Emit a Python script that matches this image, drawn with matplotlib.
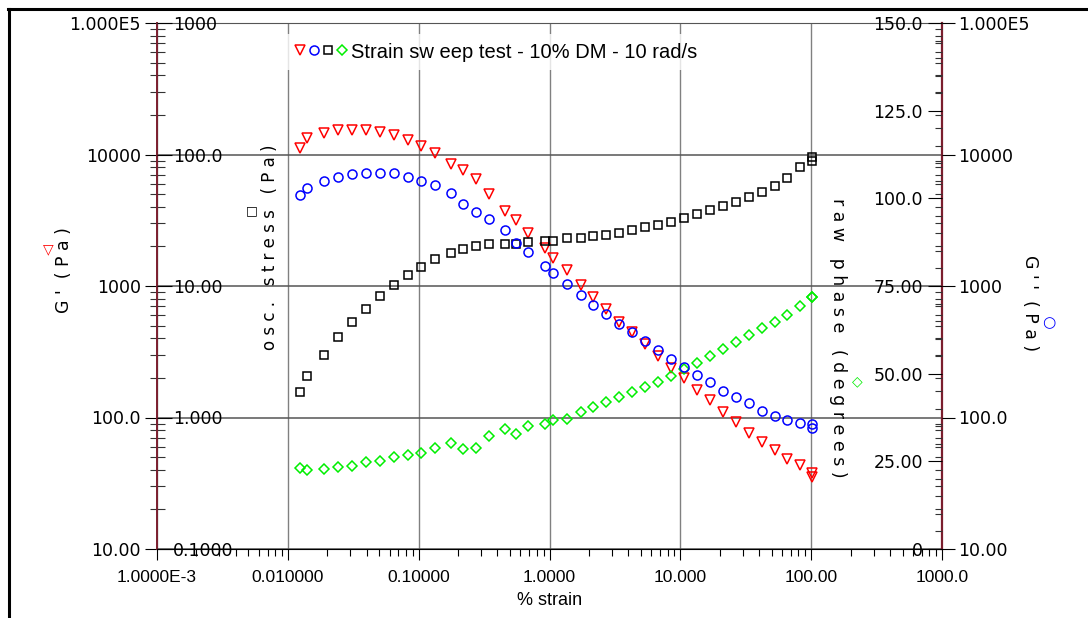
import matplotlib
matplotlib.use("Agg")
import matplotlib.pyplot as plt
from matplotlib.lines import Line2D
from matplotlib.legend_handler import HandlerTuple
from matplotlib.ticker import NullFormatter, NullLocator, FixedLocator

# strain sweep data
strain = [0.0124, 0.0141, 0.0190, 0.0243, 0.0311, 0.0397, 0.0508, 0.0650, 0.0832, 0.1045,
          0.134, 0.177, 0.219, 0.275, 0.346, 0.458, 0.556, 0.687, 0.927, 1.067,
          1.365, 1.746, 2.158, 2.712, 3.409, 4.286, 5.387, 6.770, 8.509, 10.70,
          13.45, 16.91, 21.26, 26.72, 33.6, 42.2, 53.1, 65.6, 82.5, 101.9, 101.9]
g_storage = [11110, 13370, 14450, 15310, 15310, 15310, 14700, 14020, 12850, 11620,
             10280, 8480, 7600, 6460, 4990, 3725, 3164, 2533, 1949, 1620,
             1319, 1026, 826, 663, 528, 448, 361, 296, 240, 200,
             163, 135.5, 110.4, 91.7, 76.4, 64.6, 56.4, 48.2, 43.2, 37.9, 35.3]
g_loss = [4898, 5607, 6341, 6718, 7083, 7295, 7295, 7295, 6761, 6341,
          5874, 5140, 4169, 3623, 3260, 2656, 2127, 1817, 1422, 1245,
          1032, 852, 711, 611, 510, 448, 379, 325, 278, 243,
          211, 185, 159, 142, 128, 112, 103, 95.9, 91.6, 89.0, 83.4]
stress = [1.55, 2.08, 3.01, 4.06, 5.33, 6.66, 8.41, 10.14, 12.2, 13.97,
          15.99, 17.67, 18.95, 20.18, 20.7, 20.8, 20.9, 21.65, 22.1, 22.1,
          23.1, 23.1, 23.9, 24.5, 25.5, 26.6, 27.9, 29.1, 30.6, 32.8,
          35.0, 37.7, 40.4, 43.4, 47.3, 52.0, 58.1, 66.8, 80.0, 95.3, 88.5]
phase = [23.0, 22.5, 22.7, 23.4, 23.8, 24.7, 25.1, 26.2, 26.7, 27.3,
         28.9, 30.3, 28.5, 28.9, 32.2, 34.1, 32.9, 35.2, 35.6, 36.7,
         37.1, 39.0, 40.4, 42.0, 43.4, 44.9, 46.1, 47.5, 49.4, 51.2,
         53.1, 55.0, 56.9, 59.1, 61.0, 62.9, 64.8, 66.7, 69.3, 71.8, 71.8]

x_ticks = [1e-3, 1e-2, 1e-1, 1, 10, 100, 1000]
x_labels = ['1.0000E-3', '0.010000', '0.10000', '1.0000', '10.000', '100.00', '1000.0']
mod_ticks = [10, 100, 1000, 1e4, 1e5]
mod_labels = ['10.00', '100.0', '1000', '10000', '1.000E5']
stress_ticks = [0.1, 1, 10, 100, 1000]
stress_labels = ['0.1000', '1.000', '10.00', '100.0', '1000']
phase_ticks = [0, 25, 50, 75, 100, 125, 150]
phase_labels = ['0', '25.00', '50.00', '75.00', '100.0', '125.0', '150.0']

title = 'Strain sw eep test - 10% DM - 10 rad/s'

W, H = 1088, 618
PX = 0.72  # points per pixel at dpi 100
maroon = '#7b1e2e'

plt.rcParams['font.family'] = 'DejaVu Sans'
fig = plt.figure(figsize=(W / 100, H / 100), dpi=100)

ax = fig.add_axes([157 / W, 1 - 549 / H, (942 - 157) / W, (549 - 23) / H])
ax_s = ax.twinx()
ax_ph = ax.twinx()
ax_gpp = ax.twinx()

# G' (outer left)
ax.set_xscale('log')
ax.set_yscale('log')
ax.set_xlim(1e-3, 1e3)
ax.set_ylim(10, 1e5)
ax.set_xticks(x_ticks, x_labels)
ax.set_yticks(mod_ticks, mod_labels)
ax.yaxis.set_minor_formatter(NullFormatter())
ax.xaxis.set_minor_formatter(NullFormatter())
ax.tick_params(axis='y', which='major', direction='out', length=12 * PX, pad=4 * PX,
               labelsize=12.5)
ax.tick_params(axis='y', which='minor', direction='inout', length=15 * PX, width=0.8,
               color='#333333')
ax.tick_params(axis='x', which='major', direction='out', length=11 * PX, pad=10 * PX,
               labelsize=12.5, labelfontfamily='Liberation Sans')
ax.tick_params(axis='x', which='minor', direction='out', length=7 * PX, width=0.8)
ax.set_xlabel('% strain', fontsize=13, family='Liberation Sans', labelpad=5)
ax.grid(True, which='major', axis='x', color='#808080', lw=1)
ax.grid(True, which='major', axis='y', color='#555555', lw=1.1)
ax.spines['left'].set_color(maroon)
ax.spines['right'].set_color(maroon)
ax.spines['left'].set_linewidth(1.4)
ax.spines['right'].set_linewidth(1.6)
ax.spines['top'].set_color('#555555')
ax.spines['bottom'].set_color('black')

# osc. stress (inner left)
ax_s.set_yscale('log')
ax_s.set_ylim(0.1, 1000)
ax_s.yaxis.tick_left()
ax_s.set_yticks(stress_ticks, stress_labels)
ax_s.yaxis.set_minor_locator(NullLocator())
ax_s.tick_params(axis='y', which='major', direction='in', length=15 * PX,
                 pad=-16 * PX, labelsize=12.5)
for lbl in ax_s.get_yticklabels():
    lbl.set_horizontalalignment('left')

# raw phase (inner right)
ax_ph.set_ylim(0, 150)
ax_ph.set_yticks(phase_ticks, phase_labels)
ax_ph.yaxis.set_minor_locator(FixedLocator(list(range(0, 151, 5))))
ax_ph.tick_params(axis='y', which='major', direction='in', length=14 * PX,
                  pad=-19 * PX, labelsize=12.5)
ax_ph.tick_params(axis='y', which='minor', direction='in', length=7 * PX, width=0.8,
                  color='#333333')
for lbl in ax_ph.get_yticklabels():
    lbl.set_horizontalalignment('right')

# G'' (outer right)
ax_gpp.set_yscale('log')
ax_gpp.set_ylim(10, 1e5)
ax_gpp.set_yticks(mod_ticks, mod_labels)
ax_gpp.yaxis.set_minor_formatter(NullFormatter())
ax_gpp.tick_params(axis='y', which='major', direction='out', length=13 * PX,
                   pad=3 * PX, labelsize=12.5)
ax_gpp.tick_params(axis='y', which='minor', direction='in', length=7 * PX, width=0.8,
                   color='#333333')

for a in (ax_s, ax_ph, ax_gpp):
    for sp in a.spines.values():
        sp.set_visible(False)

l_gp, = ax.plot(strain, g_storage, ls='none', marker='v', ms=7, mfc='none',
                mec='red', mew=1.1)
l_s, = ax_s.plot(strain, stress, ls='none', marker='s', ms=5.5, mfc='none',
                 mec='black', mew=1.1)
l_ph, = ax_ph.plot(strain, phase, ls='none', marker='D', ms=5, mfc='none',
                   mec='#00ee00', mew=1.1)
l_gpp, = ax_gpp.plot(strain, g_loss, ls='none', marker='o', ms=6.5, mfc='none',
                     mec='blue', mew=1.1)

leg = fig.legend(handles=[(l_gp, l_gpp, l_s, l_ph)], labels=[title],
                 handler_map={tuple: HandlerTuple(ndivide=None, pad=0.2)},
                 loc='center left', bbox_to_anchor=(287 / W, 1 - 52 / H),
                 borderaxespad=0, borderpad=0.4, handlelength=2.6, handletextpad=0.2,
                 frameon=True, fancybox=False, facecolor='white',
                 prop={'family': 'Liberation Sans', 'size': 14.5})
leg.get_frame().set_linewidth(0)

# axis titles with their series symbol
fig.text(64 / W, 1 - 270 / H, "G '  ( P a )", rotation=90, ha='center', va='center',
         fontsize=12.5)
fig.text(48 / W, 1 - 249 / H, '\u25bd', color='red', ha='center', va='center', fontsize=10)
fig.text(270 / W, 1 - 247 / H, 'o s c .   s t r e s s   ( P a )', rotation=90,
         ha='center', va='center', fontsize=12)
fig.text(252 / W, 1 - 211 / H, '\u25a1', color='black', ha='center', va='center',
         fontsize=9)
fig.text(838 / W, 1 - 338 / H, 'r a w   p h a s e   ( d e g r e e s )', rotation=270,
         ha='center', va='center', fontsize=12.5)
fig.text(857 / W, 1 - 381 / H, '\u25c7', color='#00ee00', ha='center', va='center',
         fontsize=10)
fig.text(1030 / W, 1 - 303 / H, "G ' '  ( P a )", rotation=270, ha='center',
         va='center', fontsize=12.5)
fig.text(1049 / W, 1 - 323 / H, '\u25cb', color='blue', ha='center', va='center',
         fontsize=11)

# outer frame (top and left edges)
fig.add_artist(Line2D([8 / W, 1], [1 - 9 / H, 1 - 9 / H], transform=fig.transFigure,
                      color='black', lw=2.2))
fig.add_artist(Line2D([8.5 / W, 8.5 / W], [0, 1 - 9 / H], transform=fig.transFigure,
                      color='black', lw=2.2))

fig.savefig('out.png', dpi=100)
